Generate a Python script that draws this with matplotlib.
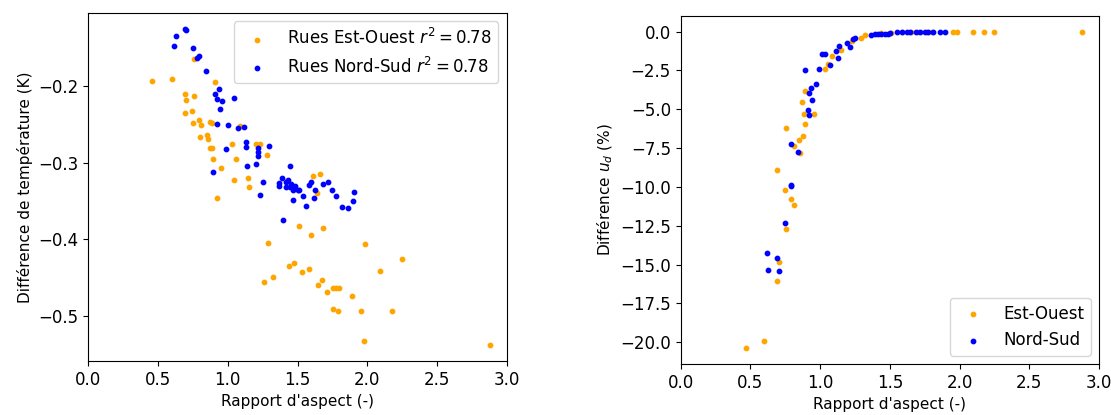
import numpy as np
import matplotlib
matplotlib.use("Agg")
import matplotlib.pyplot as plt

# Panel 1 : difference de temperature vs rapport d'aspect
ew_x = [0.46, 0.60, 0.755, 0.91, 0.695, 0.76, 0.70, 0.745, 0.694, 0.79,
        0.806, 0.747, 0.873, 0.89, 0.80, 0.85, 0.855, 0.87, 0.888, 0.895,
        1.031, 1.058, 0.952, 1.084, 1.204, 1.23, 1.28, 1.041, 1.144, 1.149,
        1.61, 1.663, 0.919, 1.637, 1.507, 1.68, 1.593, 1.29, 1.981, 2.249,
        2.091, 1.438, 1.474, 1.531, 1.584, 1.326, 1.256, 1.673, 1.644, 1.756,
        1.775, 1.797, 1.713, 1.892, 1.754, 1.792, 1.952, 2.18, 1.974, 2.88]
ew_dt = [-0.193, -0.190, -0.165, -0.194, -0.210, -0.213, -0.218, -0.232, -0.235, -0.244,
         -0.251, -0.248, -0.246, -0.248, -0.266, -0.263, -0.269, -0.281, -0.281, -0.295,
         -0.275, -0.295, -0.307, -0.252, -0.276, -0.276, -0.290, -0.323, -0.320, -0.332,
         -0.317, -0.314, -0.346, -0.339, -0.383, -0.385, -0.394, -0.405, -0.406, -0.425,
         -0.441, -0.435, -0.431, -0.442, -0.439, -0.449, -0.455, -0.453, -0.460, -0.463,
         -0.463, -0.463, -0.468, -0.474, -0.491, -0.494, -0.494, -0.493, -0.533, -0.538]

ns_x = [0.695, 0.703, 0.627, 0.615, 0.747, 0.792, 0.782, 0.842, 0.936, 0.909,
        0.919, 0.962, 1.041, 0.945, 0.921, 1.005, 1.074, 1.118, 1.127, 1.127,
        1.213, 1.218, 1.213, 1.292, 0.988, 1.199, 1.137, 0.895, 1.447, 1.249,
        1.385, 1.368, 1.368, 1.416, 1.435, 1.452, 1.416, 1.445, 1.464, 1.483,
        1.500, 1.512, 1.464, 1.232, 1.541, 1.560, 1.584, 1.596, 1.627, 1.620,
        1.684, 1.715, 1.746, 1.775, 1.818, 1.859, 1.904, 1.895, 1.397]
ns_dt = [-0.125, -0.126, -0.134, -0.147, -0.150, -0.160, -0.163, -0.180, -0.203, -0.210,
         -0.217, -0.219, -0.215, -0.230, -0.249, -0.251, -0.255, -0.253, -0.273, -0.279,
         -0.280, -0.286, -0.291, -0.278, -0.282, -0.301, -0.304, -0.312, -0.304, -0.325,
         -0.320, -0.326, -0.330, -0.325, -0.322, -0.327, -0.331, -0.332, -0.335, -0.330,
         -0.335, -0.336, -0.349, -0.342, -0.343, -0.356, -0.329, -0.325, -0.335, -0.346,
         -0.327, -0.325, -0.335, -0.343, -0.357, -0.359, -0.338, -0.350, -0.375]

# Panel 2 : difference u_d (%) vs rapport d'aspect
ew_x2 = [0.471, 0.600, 0.694, 0.703, 0.756, 0.809, 0.792, 0.746, 0.694, 0.756,
         0.811, 0.854, 0.852, 0.876, 0.895, 0.885, 0.955, 0.868, 0.888, 1.033,
         1.055, 1.086, 1.153, 1.225, 1.290, 1.325, 1.440, 1.510, 1.590, 1.650,
         1.700, 1.770, 1.800, 1.955, 1.980, 2.093, 2.177, 2.246, 2.880]
ew_ud = [-20.38, -19.93, -16.05, -14.82, -12.74, -11.15, -10.78, -10.23, -8.91, -6.19,
         -7.37, -7.82, -6.98, -6.72, -5.97, -5.29, -5.29, -4.55, -3.80, -2.40,
         -2.06, -1.55, -1.22, -0.60, -0.39, -0.21, -0.10, -0.08, -0.03, -0.01,
         0.0, 0.0, 0.0, 0.0, 0.0, 0.0, 0.0, 0.0, 0.0]

ns_x2 = [0.792, 0.746, 0.617, 0.694, 0.627, 0.703, 0.945, 0.911, 0.921, 0.789,
         0.842, 0.789, 0.890, 0.990, 1.010, 1.038, 1.074, 1.117, 1.129, 1.136,
         1.196, 1.213, 1.234, 1.249, 0.967, 0.938, 0.921, 1.368, 1.392, 1.416,
         1.440, 1.464, 1.488, 1.500, 1.548, 1.584, 1.620, 1.644, 1.691, 1.715,
         1.751, 1.775, 1.811, 1.859, 1.895]
ns_ud = [-9.90, -12.33, -14.26, -14.58, -15.33, -15.42, -4.40, -5.03, -5.35, -7.26,
         -7.75, -9.92, -2.49, -2.40, -1.46, -1.46, -2.17, -1.25, -1.70, -0.92,
         -0.71, -0.99, -0.49, -0.43, -3.39, -3.65, -3.95, -0.24, -0.17, -0.15,
         -0.13, -0.13, -0.13, -0.11, -0.06, -0.04, -0.02, 0.0, 0.0, 0.0,
         0.0, 0.0, 0.0, 0.0, 0.0]

r2_ew = 0.78
r2_ns = 0.78

plt.rcParams["xtick.labelsize"] = 12
plt.rcParams["ytick.labelsize"] = 12
plt.rcParams["axes.labelsize"] = 11
plt.rcParams["legend.fontsize"] = 12

fig = plt.figure(figsize=(11.11, 4.15), dpi=100)
ax1 = fig.add_axes([88.3 / 1111, (415 - 361) / 415, 418.5 / 1111, 348 / 415])
ax2 = fig.add_axes([680.7 / 1111, (415 - 364) / 415, 418.3 / 1111, 348.3 / 415])

ax1.scatter(ew_x, ew_dt, s=10, color="orange", label=f"Rues Est-Ouest $r^2 = {r2_ew}$")
ax1.scatter(ns_x, ns_dt, s=10, color="blue", label=f"Rues Nord-Sud $r^2 = {r2_ns}$")
ax1.set_xlim(0, 3)
ax1.set_xlabel("Rapport d'aspect (-)")
ax1.set_ylabel("Différence de température (K)")
ax1.legend(loc="upper right")

ax2.scatter(ew_x2, ew_ud, s=10, color="orange", label="Est-Ouest")
ax2.scatter(ns_x2, ns_ud, s=10, color="blue", label="Nord-Sud")
ax2.set_xlim(0, 3)
ax2.set_xlabel("Rapport d'aspect (-)")
ax2.set_ylabel("Différence $u_d$ (%)")
ax2.legend(loc="lower right")

fig.savefig("out.png", dpi=100)
